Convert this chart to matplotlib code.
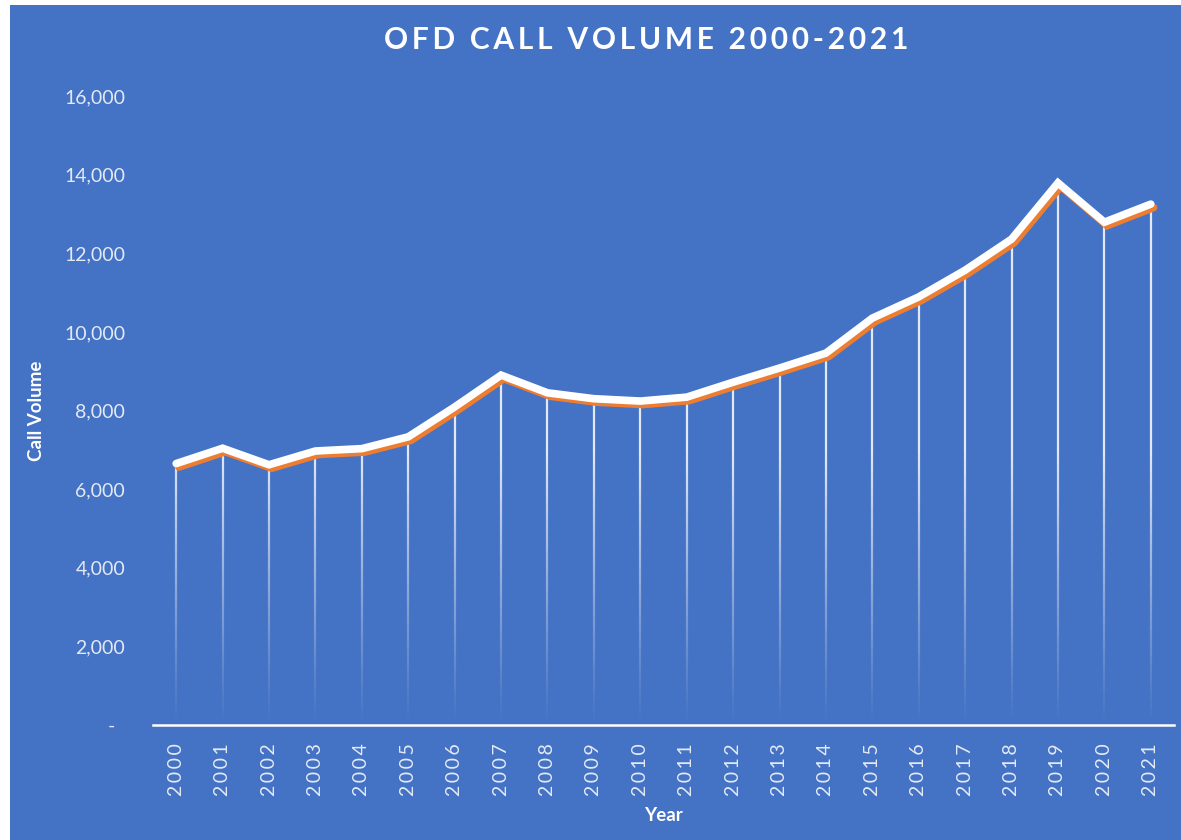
import matplotlib
matplotlib.use("Agg")
import matplotlib.pyplot as plt
import matplotlib.patheffects as pe
from matplotlib.patches import Rectangle
from matplotlib.collections import LineCollection
import numpy as np

years = [str(y) for y in range(2000, 2022)]
calls = [6650, 7040, 6620, 6970, 7030, 7330, 8090, 8900, 8450, 8300,
         8240, 8340, 8720, 9080, 9460, 10350, 10890, 11570, 12360, 13790,
         12790, 13250]
yticks = [0, 2000, 4000, 6000, 8000, 10000, 12000, 14000, 16000]
title = "OFD CALL VOLUME 2000-2021"
xlabel = "Year"
ylabel = "Call Volume"

BG = "#4472C4"
ORANGE = "#ED7D31"
TICKC = "#E4EAF5"
FAM = ["Lato", "DejaVu Sans"]

def spaced(s, sep="\u2009"):
    return sep.join(list(s))

W, H = 1181, 840
fig = plt.figure(figsize=(W / 100, H / 100), dpi=100)
fig.patch.set_facecolor("white")
fig.patches.append(Rectangle((10 / W, 0), 1 - 10 / W, (H - 5) / H,
                             transform=fig.transFigure, facecolor=BG,
                             edgecolor="none", zorder=-10))

ax = fig.add_axes([153 / W, (H - 725) / H, (1174 - 153) / W, (725 - 96) / H])
ax.set_facecolor("none")

x = np.arange(len(years))

# drop lines with fade toward the bottom
segs, cols = [], []
n = 60
for xi, v in zip(x, calls):
    ys = np.linspace(0, v, n + 1)
    for k in range(n):
        y0, y1 = ys[k], ys[k + 1]
        segs.append([(xi, y0), (xi, y1)])
        a = 0.85 * min(1.0, ((y0 + y1) / 2) / 7000.0) ** 1.1
        cols.append((1, 1, 1, a))
lc = LineCollection(segs, colors=cols, linewidths=1.6, zorder=2,
                    capstyle="butt")
ax.add_collection(lc)

ax.plot(x, calls, color="white", lw=5.5, solid_joinstyle="miter",
        solid_capstyle="round", zorder=3,
        path_effects=[pe.SimpleLineShadow(offset=(2, -2.5), shadow_color=ORANGE,
                                          alpha=1.0),
                      pe.Normal()])

ax.set_xlim(-0.5, len(years) - 0.5)
ax.set_ylim(0, 16000)
ax.set_xticks(x)
ax.set_xticklabels([spaced(y) for y in years], rotation=90, color=TICKC,
                   fontsize=14, family=FAM)
ax.set_yticks(yticks)
ax.set_yticklabels(["-  " if t == 0 else f"{t:,}" for t in yticks],
                   color=TICKC, fontsize=14, family=FAM)
ax.tick_params(axis="both", length=0)
ax.tick_params(axis="x", pad=13)
ax.tick_params(axis="y", pad=20)

for s in ["top", "right", "left"]:
    ax.spines[s].set_visible(False)
ax.spines["bottom"].set_color("white")
ax.spines["bottom"].set_linewidth(1.8)
ax.spines["bottom"].set_zorder(4)

ax.set_xlabel(xlabel, color="white", fontsize=13.5, fontweight="bold",
              family=FAM, labelpad=8)
ax.set_ylabel(ylabel, color="white", fontsize=13.5, fontweight="bold",
              family=FAM)
ax.yaxis.set_label_coords(-108 / (1174 - 153), 0.5)

fig.text(646 / W, 1 - 40 / H, spaced(title), color="white", fontsize=21.5,
         fontweight="bold", family=FAM, ha="center", va="center")

fig.savefig("out.png", dpi=100, facecolor=fig.get_facecolor())
